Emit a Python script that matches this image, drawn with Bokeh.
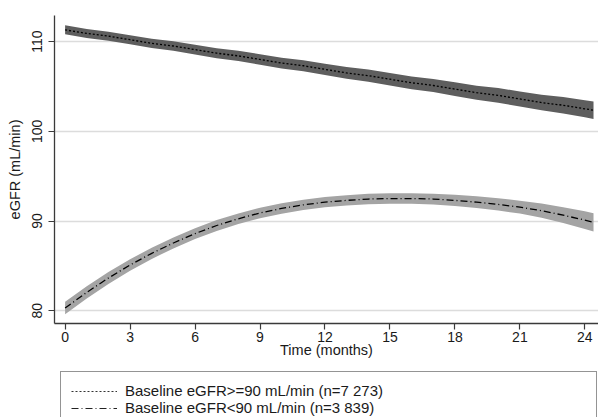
from bokeh.plotting import figure
from bokeh.layouts import column
from bokeh.models import Range1d, FixedTicker, Legend, LegendItem, ColumnDataSource
from bokeh.embed import file_html
from bokeh.resources import INLINE

# ---- data ----
months = [0, 1, 2, 3, 4, 5, 6, 7, 8, 9, 10, 11, 12, 13, 14, 15, 16, 17, 18, 19, 20, 21, 22, 23, 24, 24.4]

high_mean = [111.3, 110.9, 110.6, 110.2, 109.8, 109.5, 109.1, 108.7, 108.4, 108.0, 107.6, 107.3, 106.9,
             106.5, 106.2, 105.8, 105.4, 105.1, 104.7, 104.3, 104.0, 103.6, 103.2, 102.9, 102.5, 102.35]
high_upper = [111.8, 111.4, 111.1, 110.7, 110.32, 110.04, 109.65, 109.26, 108.97, 108.58, 108.2, 107.92, 107.53,
              107.15, 106.87, 106.49, 106.11, 105.83, 105.46, 105.08, 104.81, 104.44, 104.07, 103.81, 103.45, 103.32]
high_lower = [110.8, 110.4, 110.1, 109.7, 109.28, 108.96, 108.55, 108.14, 107.83, 107.42, 107.0, 106.68, 106.27,
              105.85, 105.53, 105.11, 104.69, 104.37, 103.94, 103.52, 103.19, 102.76, 102.33, 101.99, 101.55, 101.38]

low_mean = [80.3, 82.05, 83.65, 85.1, 86.4, 87.55, 88.6, 89.5, 90.25, 90.9, 91.4, 91.8, 92.1,
            92.3, 92.45, 92.5, 92.5, 92.45, 92.3, 92.1, 91.85, 91.55, 91.15, 90.65, 90.1, 89.85]
low_upper = [81.0, 82.73, 84.31, 85.74, 87.02, 88.15, 89.2, 90.1, 90.84, 91.49, 91.99, 92.38, 92.68,
             92.88, 93.03, 93.08, 93.09, 93.05, 92.92, 92.75, 92.53, 92.27, 91.95, 91.53, 91.08, 90.87]
low_lower = [79.6, 81.37, 82.99, 84.46, 85.78, 86.95, 88.0, 88.9, 89.66, 90.31, 90.81, 91.22, 91.52,
             91.72, 91.87, 91.92, 91.91, 91.85, 91.68, 91.45, 91.17, 90.83, 90.35, 89.77, 89.12, 88.83]

x_ticks = [0, 3, 6, 9, 12, 15, 18, 21, 24]
y_ticks = [80, 90, 100, 110]
label_high = "Baseline eGFR>=90 mL/min (n=7 273)"
label_low = "Baseline eGFR<90 mL/min (n=3 839)"

FONT = "Liberation Sans"
HIGH_DASH = "2 2"
LOW_DASH = "7 3 1 3"

p = figure(width=598, height=362, output_backend="svg", toolbar_location=None,
           x_range=Range1d(-0.49, 24.63), y_range=Range1d(78.58, 112.9),
           min_border_left=54, min_border_top=15, min_border_right=0, min_border_bottom=39)
p.outline_line_color = None
p.background_fill_color = "white"
p.border_fill_color = "white"

src = ColumnDataSource(dict(t=months, hm=high_mean, hu=high_upper, hl=high_lower,
                            lm=low_mean, lu=low_upper, ll=low_lower))

p.varea(x="t", y1="hl", y2="hu", source=src, fill_color="#5e5e5e", fill_alpha=1.0)
p.varea(x="t", y1="ll", y2="lu", source=src, fill_color="#a4a4a4", fill_alpha=1.0)
p.line(x="t", y="hm", source=src, line_color="black", line_width=1.3, line_dash=HIGH_DASH)
p.line(x="t", y="lm", source=src, line_color="black", line_width=1.3, line_dash=LOW_DASH)

# axes
p.xaxis.ticker = FixedTicker(ticks=x_ticks)
p.yaxis.ticker = FixedTicker(ticks=y_ticks)
for ax in (p.xaxis[0], p.yaxis[0]):
    ax.axis_line_color = "#3a3a3a"
    ax.axis_line_width = 1.3
    ax.major_tick_line_color = "#3a3a3a"
    ax.major_tick_line_width = 1.2
    ax.major_tick_out = 6
    ax.major_tick_in = 0
    ax.minor_tick_line_color = None
    ax.major_label_text_font = FONT
    ax.major_label_text_font_size = "14px"
    ax.major_label_text_color = "#1a1a1a"
    ax.axis_label_text_font = FONT
    ax.axis_label_text_font_size = "14.5px"
    ax.axis_label_text_font_style = "normal"
    ax.axis_label_text_color = "#1a1a1a"

p.xaxis.axis_label = "Time (months)"
p.xaxis.major_label_standoff = 2
p.xaxis.axis_label_standoff = -3
p.yaxis.axis_label = "eGFR (mL/min)"
p.yaxis.major_label_orientation = "vertical"
p.yaxis.major_label_standoff = 6
p.yaxis.axis_label_standoff = 7

p.xgrid.grid_line_color = None
p.ygrid.grid_line_color = "#dcdcdc"
p.ygrid.grid_line_width = 1.5

# legend panel below the plot (its frame is aligned with the plot's frame)
lg = figure(width=598, height=55, output_backend="svg", toolbar_location=None,
            x_axis_type=None, y_axis_type=None, x_range=Range1d(-1, 0), y_range=Range1d(0, 1),
            min_border=0)
lg.outline_line_color = None
lg.grid.grid_line_color = None
lr_high = lg.line(x="t", y="hm", source=src, line_color="#333333", line_width=1.1, line_dash=HIGH_DASH)
lr_low = lg.line(x="t", y="lm", source=src, line_color="#222222", line_width=1.2, line_dash=LOW_DASH)

legend = Legend(items=[LegendItem(label=label_high, renderers=[lr_high]),
                       LegendItem(label=label_low, renderers=[lr_low])],
                orientation="vertical", location=(6, -10), margin=0,
                padding=10, spacing=0, glyph_width=46, glyph_height=16,
                label_height=16, label_width=461, label_standoff=8,
                label_text_font=FONT, label_text_font_size="15px", label_text_color="#1a1a1a",
                border_line_color="#2a2a2a", border_line_width=1.2,
                background_fill_color="white", background_fill_alpha=1.0)
lg.add_layout(legend, "center")

layout = column(p, lg, spacing=0)
open("out.html", "w").write(file_html(layout, INLINE))
